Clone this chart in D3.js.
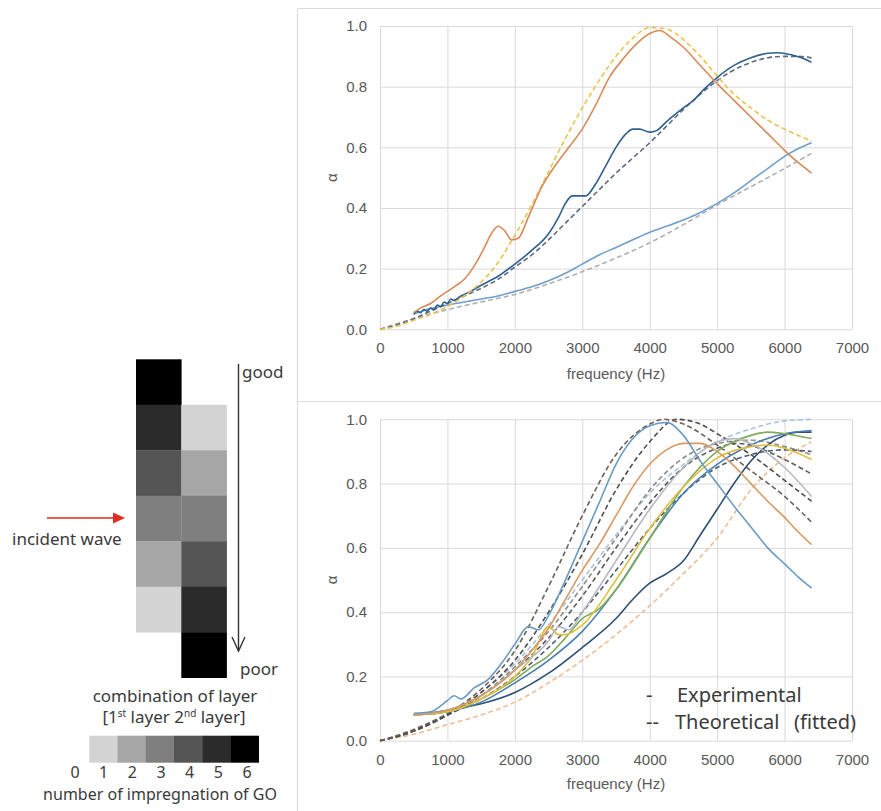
<!DOCTYPE html>
<html><head><meta charset="utf-8">
<script src="https://cdn.jsdelivr.net/npm/d3@7"></script>
<style>
html,body{margin:0;padding:0;background:#fff;}
svg{display:block;}
</style></head>
<body>
<svg id="chart" width="881" height="811"></svg>
<script>
// ---------------- DATA ----------------
const freqTicks = [0,1000,2000,3000,4000,5000,6000,7000];
const alphaTicks = [0,0.2,0.4,0.6,0.8,1.0];
const xLabel = "frequency (Hz)";
const yLabel = "α";

// Top chart: [frequency Hz, absorption coefficient]
const topExpOrange = [[500,.055],[600,.07],[750,.085],[900,.11],[1000,.125],[1100,.14],[1250,.165],[1400,.21],[1550,.27],[1650,.315],[1750,.34],[1850,.325],[1950,.295],[2050,.30],[2200,.37],[2400,.47],[2600,.54],[2800,.60],[3000,.66],[3200,.74],[3400,.83],[3600,.89],[3800,.94],[4000,.975],[4150,.985],[4300,.965],[4500,.93],[4750,.87],[5000,.81],[5250,.755],[5500,.70],[5750,.645],[6000,.59],[6200,.55],[6400,.515]];
const topFitYellow = [[0,0],[250,.01],[500,.03],[750,.05],[1000,.075],[1250,.11],[1500,.155],[1750,.22],[2000,.31],[2250,.41],[2500,.52],[2750,.63],[3000,.73],[3250,.82],[3500,.9],[3750,.96],[4000,.995],[4250,.99],[4500,.955],[4750,.90],[5000,.835],[5250,.775],[5500,.73],[5750,.69],[6000,.66],[6200,.64],[6400,.62]];
const topExpNavy = [[500,.05],[550,.06],[600,.055],[650,.065],[700,.06],[750,.07],[800,.065],[850,.08],[900,.075],[950,.09],[1000,.085],[1050,.1],[1100,.095],[1200,.11],[1300,.12],[1500,.145],[1750,.175],[2000,.215],[2250,.26],[2500,.315],[2650,.37],[2750,.415],[2850,.44],[2950,.44],[3050,.44],[3200,.48],[3350,.54],[3500,.60],[3650,.645],[3750,.66],[3850,.66],[4000,.65],[4100,.655],[4250,.685],[4500,.73],[4650,.755],[4800,.79],[5000,.83],[5250,.87],[5500,.895],[5750,.91],[5900,.912],[6100,.905],[6250,.895],[6400,.88]];
const topFitSlate = [[0,0],[250,.015],[500,.035],[750,.06],[1000,.085],[1250,.11],[1500,.135],[1750,.165],[2000,.205],[2250,.245],[2500,.295],[2750,.35],[3000,.405],[3250,.46],[3500,.515],[3750,.565],[4000,.615],[4250,.67],[4500,.725],[4750,.775],[5000,.82],[5250,.855],[5500,.88],[5750,.895],[6000,.9],[6200,.9],[6400,.895]];
const topExpBlue = [[500,.05],[700,.065],[1000,.08],[1250,.09],[1500,.10],[1750,.11],[2000,.125],[2250,.14],[2500,.16],[2750,.185],[3000,.215],[3250,.245],[3500,.27],[3750,.295],[4000,.32],[4250,.34],[4500,.36],[4750,.385],[5000,.415],[5250,.45],[5500,.49],[5750,.53],[6000,.57],[6200,.595],[6400,.615]];
const topFitGray = [[0,0],[500,.035],[1000,.065],[1500,.09],[2000,.115],[2500,.15],[3000,.19],[3500,.235],[4000,.285],[4500,.345],[5000,.41],[5500,.47],[6000,.53],[6400,.58]];

// Bottom chart
const botExpSteel = [[500,.085],[750,.09],[1000,.125],[1100,.14],[1200,.13],[1400,.165],[1600,.19],[1800,.24],[2000,.30],[2200,.355],[2350,.345],[2500,.39],[2750,.50],[3000,.62],[3250,.74],[3500,.86],[3750,.94],[4000,.98],[4250,.99],[4500,.95],[4750,.87],[5000,.80],[5250,.73],[5500,.665],[5750,.60],[6000,.55],[6200,.51],[6400,.475]];
const botExpOrange = [[500,.08],[1000,.095],[1500,.14],[2000,.22],[2250,.28],[2500,.35],[2750,.44],[3000,.53],[3250,.61],[3500,.70],[3750,.79],[4000,.86],[4250,.905],[4500,.925],[4750,.925],[5000,.9],[5250,.855],[5500,.80],[5750,.745],[6000,.695],[6200,.65],[6400,.61]];
const botExpGray = [[500,.08],[1000,.095],[1500,.14],[2000,.22],[2500,.31],[2650,.355],[2800,.345],[3000,.40],[3500,.56],[4000,.72],[4500,.85],[5000,.93],[5250,.94],[5500,.925],[6000,.85],[6400,.76]];
const botExpYellow = [[500,.08],[1000,.09],[1500,.13],[2000,.20],[2250,.26],[2500,.355],[2650,.33],[2750,.33],[3000,.36],[3500,.50],[4000,.66],[4500,.79],[5000,.88],[5500,.915],[5750,.92],[6000,.91],[6400,.875]];
const botExpGreen = [[500,.08],[1000,.09],[1500,.13],[2000,.19],[2250,.23],[2500,.265],[2750,.32],[3000,.38],[3250,.41],[3500,.47],[4000,.63],[4500,.79],[5000,.90],[5500,.95],[5750,.96],[6000,.955],[6400,.94]];
const botExpBlue = [[500,.08],[1000,.09],[1500,.12],[2000,.18],[2500,.25],[3000,.34],[3500,.47],[4000,.63],[4500,.77],[5000,.86],[5500,.92],[6000,.955],[6400,.965]];
const botExpNavy = [[500,.08],[1000,.095],[1500,.115],[2000,.15],[2500,.21],[3000,.29],[3500,.38],[3750,.44],[4000,.49],[4250,.52],[4500,.56],[4750,.64],[5000,.72],[5250,.80],[5500,.87],[5750,.92],[6000,.95],[6200,.96],[6400,.96]];
const botFitBrown = [[0,0],[500,.035],[1000,.085],[1500,.16],[2000,.28],[2500,.48],[3000,.70],[3500,.89],[4000,.985],[4200,1.0],[4500,.985],[5000,.92],[5500,.84],[6000,.76],[6400,.68]];
const botFitDark = [[0,0],[500,.03],[1000,.08],[1500,.15],[2000,.25],[2500,.40],[3000,.58],[3500,.78],[4000,.93],[4400,1.0],[4750,.985],[5000,.955],[5500,.89],[6000,.81],[6400,.745]];
const botFitLightBlue = [[0,0],[500,.03],[1000,.08],[1500,.15],[2000,.24],[2500,.36],[3000,.50],[3500,.64],[4000,.77],[4500,.86],[5000,.93],[5500,.97],[6000,.995],[6400,1.0]];
const botFitMid = [[0,0],[500,.03],[1000,.08],[1500,.14],[2000,.22],[2500,.32],[3000,.45],[3500,.60],[4000,.74],[4500,.85],[5000,.91],[5300,.925],[5750,.90],[6000,.875],[6400,.83]];
const botFitSlate = [[0,0],[500,.03],[1000,.08],[1500,.13],[2000,.20],[2500,.29],[3000,.40],[3500,.53],[4000,.66],[4500,.77],[5000,.85],[5500,.89],[6000,.905],[6400,.90]];
const botFitGray = [[0,0],[500,.03],[1000,.08],[1500,.14],[2000,.23],[2500,.34],[3000,.48],[3500,.63],[4000,.78],[4500,.88],[5000,.925],[5500,.935],[6000,.915],[6400,.89]];
const botFitPeach = [[0,0],[500,.02],[1000,.05],[1500,.08],[2000,.12],[2500,.18],[3000,.25],[3500,.33],[4000,.42],[4500,.52],[5000,.63],[5500,.78],[6000,.88],[6400,.93]];

// Left panel: layer combinations [1st layer, 2nd layer] (0 = none)
const layerCombos = [[6,0],[5,1],[4,2],[3,3],[2,4],[1,5],[0,6]];
const goLevels = [1,2,3,4,5,6];
const goTickLabels = ["0","1","2","3","4","5","6"];
const legendLabels = ["Experimental","Theoretical","(fitted)"];

// ---------------- STYLES ----------------
const topStyles = [
  {data: topFitGray, color:"#b0b0b0", dash:"5,3"},
  {data: topExpBlue, color:"#6f9fcc", dash:null},
  {data: topFitSlate, color:"#5d6a82", dash:"5,3"},
  {data: topExpNavy, color:"#2f5f8d", dash:null},
  {data: topFitYellow, color:"#e8c44c", dash:"5,3"},
  {data: topExpOrange, color:"#d88a58", dash:null}
];
const botStyles = [
  {data: botFitPeach, color:"#f0bd92", dash:"5,3"},
  {data: botFitLightBlue, color:"#a7c3de", dash:"5,3"},
  {data: botFitGray, color:"#8c8c8c", dash:"5,3"},
  {data: botFitSlate, color:"#4c5d75", dash:"5,3"},
  {data: botFitMid, color:"#5a5a5a", dash:"5,3"},
  {data: botFitDark, color:"#4e4e4e", dash:"5,3"},
  {data: botFitBrown, color:"#6e5f57", dash:"5,3"},
  {data: botExpNavy, color:"#2c4f73", dash:null},
  {data: botExpBlue, color:"#4a7db0", dash:null},
  {data: botExpGreen, color:"#7dab5c", dash:null},
  {data: botExpYellow, color:"#e0bf3c", dash:null},
  {data: botExpGray, color:"#b6bac0", dash:null},
  {data: botExpOrange, color:"#d99a62", dash:null},
  {data: botExpSteel, color:"#6b9bc3", dash:null}
];
const grayFill = {1:"#d3d3d3",2:"#a6a6a6",3:"#7f7f7f",4:"#555555",5:"#2b2b2b",6:"#000000"};

// ---------------- DRAW ----------------
const svg = d3.select("#chart");
const tickFont = "'Liberation Sans', Arial, sans-serif";
const textFont = "'Noto Sans', 'Open Sans', sans-serif";

svg.append("path").attr("d","M297.5,811 V8.5 H881 M297.5,401.5 H881")
  .attr("fill","none").attr("stroke","#dcdcdc").attr("stroke-width",1.2);

function drawChart(top, bottom, series, labelPad, titleY) {
  const x = d3.scaleLinear().domain([0,7000]).range([380,852]);
  const y = d3.scaleLinear().domain([0,1]).range([bottom, top]);
  const g = svg.append("g");
  const ax = g.append("g").attr("transform",`translate(0,${bottom})`)
    .call(d3.axisBottom(x).tickValues(freqTicks).tickFormat(d3.format("d"))
      .tickSizeInner(-(bottom-top)).tickSizeOuter(0).tickPadding(labelPad));
  const ay = g.append("g").attr("transform",`translate(380,0)`)
    .call(d3.axisLeft(y).tickValues(alphaTicks).tickFormat(d3.format(".1f"))
      .tickSizeInner(-(852-380)).tickSizeOuter(0).tickPadding(13));
  [ax,ay].forEach(a=>{
    a.select(".domain").remove();
    a.selectAll("line").attr("stroke","#d9d9d9").attr("stroke-width",1);
    a.selectAll("text").attr("fill","#595959").style("font-family",tickFont).style("font-size","15px");
  });
  g.append("text").attr("x",(380+852)/2).attr("y",titleY).attr("text-anchor","middle")
    .attr("fill","#595959").style("font-family",tickFont).style("font-size","15px").text(xLabel);
  g.append("text").attr("transform",`translate(337,${(top+bottom)/2}) rotate(-90)`).attr("text-anchor","middle")
    .attr("fill","#595959").style("font-family",tickFont).style("font-size","15px").text(yLabel);
  const line = d3.line().x(d=>x(d[0])).y(d=>y(d[1])).curve(d3.curveMonotoneX);
  series.forEach(s=>{
    g.append("path").attr("d",line(s.data)).attr("fill","none")
      .attr("stroke",s.color).attr("stroke-width",1.6)
      .attr("stroke-dasharray",s.dash).attr("stroke-linecap","butt");
  });
  return {x,y,g};
}

drawChart(26, 329.3, topStyles, 13, 379);
drawChart(419.3, 740.7, botStyles, 14, 789);

const lg = svg.append("g").style("font-family",textFont).style("font-size","20px").attr("fill","#3a3a3a");
lg.append("text").attr("x",646).attr("y",702).text("-");
lg.append("text").attr("x",677).attr("y",702).text(legendLabels[0]);
lg.append("text").attr("x",646).attr("y",729).text("--");
lg.append("text").attr("x",675).attr("y",729).text(legendLabels[1]);
lg.append("text").attr("x",794).attr("y",729).text(legendLabels[2]);

// ---------- left panel ----------
const colX = d3.scaleBand().domain([0,1]).range([136,226.6]).padding(0);
const rowY = d3.scaleBand().domain(d3.range(layerCombos.length)).range([359.3,677.7]).padding(0);
const lp = svg.append("g");
layerCombos.forEach((c,i)=>{
  c.forEach((v,j)=>{
    if (v>0) lp.append("rect").attr("x",colX(j)).attr("y",rowY(i))
      .attr("width",colX.bandwidth()+0.3).attr("height",rowY.bandwidth()+0.3).attr("fill",grayFill[v]);
  });
});
lp.append("line").attr("x1",238.5).attr("x2",238.5).attr("y1",364).attr("y2",651)
  .attr("stroke","#333").attr("stroke-width",1.4);
lp.append("path").attr("d","M232,637 L238.5,651 L245,637").attr("fill","none")
  .attr("stroke","#333").attr("stroke-width",1.4);
const tstyle = (s,size) => s.style("font-family",textFont).style("font-size",(size||17)+"px").attr("fill","#3a3a3a");
tstyle(lp.append("text").attr("x",242).attr("y",378).text("good"));
tstyle(lp.append("text").attr("x",240).attr("y",675).text("poor"));
lp.append("line").attr("x1",47).attr("x2",116).attr("y1",518).attr("y2",518).attr("stroke","#e02a22").attr("stroke-width",1.6);
lp.append("path").attr("d","M113,512.5 L125,518 L113,523.5 Z").attr("fill","#e02a22");
tstyle(lp.append("text").attr("x",12).attr("y",545).text("incident wave"));
tstyle(lp.append("text").attr("x",175).attr("y",702).attr("text-anchor","middle").text("combination of layer"));
const t2 = tstyle(lp.append("text").attr("x",174).attr("y",723).attr("text-anchor","middle"));
t2.append("tspan").text("[1");
t2.append("tspan").attr("dy",-6).style("font-size","10px").text("st");
t2.append("tspan").attr("dy",6).text(" layer 2");
t2.append("tspan").attr("dy",-6).style("font-size","10px").text("nd");
t2.append("tspan").attr("dy",6).text(" layer]");
const cb = d3.scaleBand().domain(goLevels).range([89.3,258.7]).padding(0);
goLevels.forEach(v=>{
  lp.append("rect").attr("x",cb(v)).attr("y",735.7).attr("width",cb.bandwidth()+0.3).attr("height",27)
    .attr("fill",grayFill[v]);
});
const cbl = d3.scaleLinear().domain([0,6]).range([75,247]);
goTickLabels.forEach((t,i)=>{
  tstyle(lp.append("text").attr("x",cbl(i)).attr("y",778).attr("text-anchor","middle").text(t),16);
});
tstyle(lp.append("text").attr("x",160).attr("y",800).attr("text-anchor","middle").text("number of impregnation of GO"),16);
</script>
</body></html>
